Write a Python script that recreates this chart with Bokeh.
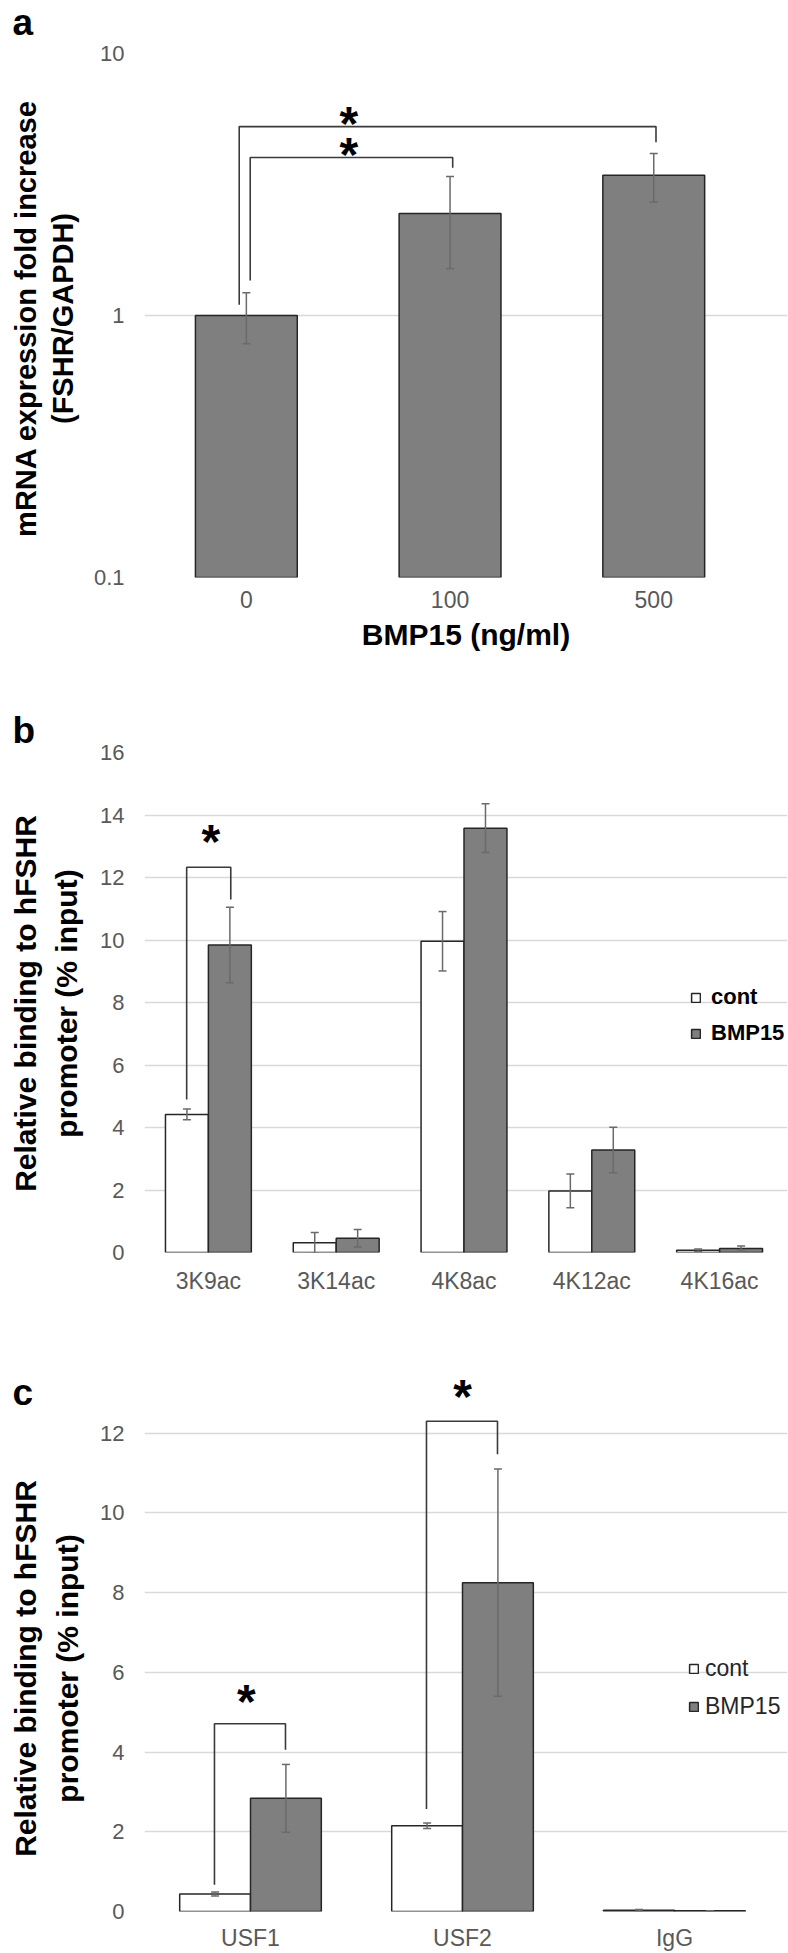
import math
from bokeh.plotting import figure
from bokeh.models import (Range1d, FixedTicker, ColumnDataSource, Whisker, TeeHead,
                          Legend, LegendItem)
from bokeh.layouts import column, row
from bokeh.embed import file_html
from bokeh.resources import INLINE
from bokeh.core.properties import value

# ---------------- data ----------------
series_names = ["cont", "BMP15"]
panel_letters = ["a", "b", "c"]

a_categories = ["0", "100", "500"]
a_fold = [1.0, 2.45, 3.43]
a_fold_err = [0.22, 0.94, 0.72]
a_yticks = [0.1, 1, 10]
a_ytick_labels = ["0.1", "1", "10"]
a_xlabel = "BMP15 (ng/ml)"
a_ylabel = ["mRNA expression fold increase", "(FSHR/GAPDH)"]
# brackets: (left x, right x, top y, left foot y, right foot y, star x, star y)
a_brackets = [(0.465, 2.511, 5.26, 1.10, 4.58, 1.003, 5.88),
              (0.519, 1.513, 4.01, 1.36, 3.66, 1.003, 4.47)]

b_categories = ["3K9ac", "3K14ac", "4K8ac", "4K12ac", "4K16ac"]
b_cont = [4.42, 0.31, 9.96, 1.97, 0.07]
b_cont_err = [0.17, 0.33, 0.95, 0.54, 0.04]
b_bmp15 = [9.84, 0.46, 13.58, 3.28, 0.13]
b_bmp15_err = [1.21, 0.28, 0.78, 0.73, 0.08]
b_yticks = [0, 2, 4, 6, 8, 10, 12, 14, 16]
b_ylabel = ["Relative binding to hFSHR", "promoter (% input)"]
b_brackets = [(0.33, 0.675, 12.33, 4.9, 11.3, 0.52, 13.47)]

c_categories = ["USF1", "USF2", "IgG"]
c_cont = [0.44, 2.15, 0.03]
c_cont_err = [0.05, 0.07, 0.02]
c_bmp15 = [2.84, 8.25, 0.02]
c_bmp15_err = [0.85, 2.85, 0.0]
c_yticks = [0, 2, 4, 6, 8, 10, 12]
c_ylabel = ["Relative binding to hFSHR", "promoter (% input)"]
c_brackets = [(0.33, 0.665, 4.71, 0.67, 4.06, 0.48, 5.51),
              (1.33, 1.665, 12.3, 2.57, 11.47, 1.5, 13.15)]

# ---------------- style ----------------
FONT = "Liberation Sans"
TICK = "#595959"
GRID = "#d9d9d9"
BAR_LINE = "#262626"
BMP_FILL = "#7f7f7f"
ERR = "#6a6a6a"
BRACKET = "#3a3a3a"
PAGE_W, PAGE_H = 788, 1953
STRIP_W = 90
W = PAGE_W - STRIP_W
FRAME_R = 787          # common right edge of all frames (page px)
STAR_FS = 48


class Panel:
    """One chart panel; geometry given in page pixels.
    grid_r is where the gridlines (category area) end."""

    def __init__(self, height, fig_top, fl, grid_r, ft, fb, n, y0, y1, log=False):
        x_end = n * (FRAME_R - fl) / (grid_r - fl)
        self.p = figure(width=W, height=height,
                        x_range=Range1d(0, x_end), y_range=Range1d(y0, y1),
                        y_axis_type="log" if log else "linear",
                        output_backend="svg", toolbar_location=None,
                        min_border_left=fl - STRIP_W,
                        min_border_right=PAGE_W - FRAME_R,
                        min_border_top=ft - fig_top,
                        min_border_bottom=fig_top + height - fb)
        p = self.p
        p.outline_line_color = None
        p.xgrid.grid_line_color = None
        p.ygrid.grid_line_color = GRID
        p.ygrid.grid_line_width = 1.3
        p.ygrid.bounds = (0, n)
        for ax in (p.xaxis[0], p.yaxis[0]):
            ax.axis_line_color = None
            ax.major_tick_line_color = None
            ax.minor_tick_line_color = None
            ax.major_tick_out = 0
            ax.major_tick_in = 0
            ax.minor_tick_out = 0
            ax.major_label_text_font = FONT
            ax.major_label_text_color = TICK
        p.yaxis.major_label_text_font_size = "22px"
        p.yaxis.major_label_standoff = 20
        p.xaxis.major_label_text_font_size = "23px"

    def set_ticks(self, cats, yticks, ylabels=None):
        p = self.p
        xt = FixedTicker(ticks=[i + 0.5 for i in range(len(cats))])
        p.xaxis.ticker = xt
        p.xaxis.major_label_overrides = {i + 0.5: c for i, c in enumerate(cats)}
        yt = FixedTicker(ticks=yticks, minor_ticks=[])
        p.yaxis.ticker = yt
        p.ygrid.ticker = yt
        if ylabels is not None:
            p.yaxis.major_label_overrides = {t: l for t, l in zip(yticks, ylabels)}

    def brackets(self, br):
        xs, ys, sx, sy = [], [], [], []
        for (xl, xr, yt, ylb, yrb, stx, sty) in br:
            xs.append([xl, xl, xr, xr])
            ys.append([ylb, yt, yt, yrb])
            sx.append(stx)
            sy.append(sty)
        self.p.multi_line(xs=xs, ys=ys, line_color=BRACKET, line_width=1.6)
        self.p.text(x=sx, y=sy, text=["*"] * len(sx), text_font=value(FONT),
                    text_font_style="bold", text_font_size=f"{STAR_FS}px",
                    text_align="center", text_baseline="alphabetic",
                    y_offset=0.2 * STAR_FS, text_color="black")

    def errors(self, xs, vals, errs):
        src = ColumnDataSource(dict(x=xs, lo=[v - e for v, e in zip(vals, errs)],
                                    hi=[v + e for v, e in zip(vals, errs)]))
        w = Whisker(source=src, base="x", lower="lo", upper="hi",
                    line_color=ERR, line_width=1.5, level="annotation",
                    upper_head=TeeHead(size=8, line_color=ERR, line_width=1.5),
                    lower_head=TeeHead(size=8, line_color=ERR, line_width=1.5))
        self.p.add_layout(w)

    def legend(self, renderers, loc, size, style, color, standoff, spacing):
        leg = Legend(items=[LegendItem(label=n, renderers=[r])
                            for n, r in zip(series_names, renderers)],
                     location=loc, glyph_width=11, glyph_height=11,
                     label_standoff=standoff, spacing=spacing, padding=0, margin=0,
                     border_line_color=None, background_fill_alpha=0,
                     label_text_font=FONT, label_text_font_size=size,
                     label_text_font_style=style, label_text_color=color,
                     label_height=25)
        self.p.add_layout(leg)


# ---------------- panel a ----------------
A = Panel(672, 0, 142, 755, 53, 577, len(a_categories), 0.1, 10, log=True)
A.set_ticks(a_categories, a_yticks, a_ytick_labels)
A.p.xaxis.major_label_standoff = 13
A.p.xaxis.axis_label = a_xlabel
A.p.xaxis.axis_label_text_font = FONT
A.p.xaxis.axis_label_text_font_size = "30px"
A.p.xaxis.axis_label_text_font_style = "bold"
A.p.xaxis.axis_label_text_color = "black"
A.p.xaxis.axis_label_standoff = 7
ax_x = [i + 0.5 for i in range(len(a_categories))]
A.p.vbar(x=ax_x, top=a_fold, bottom=0.1, width=0.5, fill_color=BMP_FILL,
         line_color=BAR_LINE, line_width=1.5)
A.errors(ax_x, a_fold, a_fold_err)
A.brackets(a_brackets)

# ---------------- panel b ----------------
BW = 0.336
nb = len(b_categories)
B = Panel(628, 672, 142, 783, 752, 1252, nb, 0, 16)
B.set_ticks(b_categories, b_yticks)
B.p.xaxis.major_label_standoff = 15
bx_c = [i + 0.5 - BW / 2 for i in range(nb)]
bx_b = [i + 0.5 + BW / 2 for i in range(nb)]
rb1 = B.p.vbar(x=bx_c, top=b_cont, bottom=0, width=BW, fill_color="white",
               line_color=BAR_LINE, line_width=1.5)
rb2 = B.p.vbar(x=bx_b, top=b_bmp15, bottom=0, width=BW, fill_color=BMP_FILL,
               line_color=BAR_LINE, line_width=1.5)
B.errors(bx_c, b_cont, b_cont_err)
B.errors(bx_b, b_bmp15, b_bmp15_err)
B.brackets(b_brackets)
B.legend([rb1, rb2], (546, 206), "22px", "bold", "black", 10, 10)

# ---------------- panel c ----------------
CW = 0.334
nc = len(c_categories)
C = Panel(653, 1300, 142, 780, 1353, 1912, nc, 0, 14)
C.set_ticks(c_categories, c_yticks)
C.p.xaxis.major_label_standoff = 13
cx_c = [i + 0.5 - CW / 2 for i in range(nc)]
cx_b = [i + 0.5 + CW / 2 for i in range(nc)]
rc1 = C.p.vbar(x=cx_c, top=c_cont, bottom=0, width=CW, fill_color="white",
               line_color=BAR_LINE, line_width=1.5)
rc2 = C.p.vbar(x=cx_b, top=c_bmp15, bottom=0, width=CW, fill_color=BMP_FILL,
               line_color=BAR_LINE, line_width=1.5)
C.errors(cx_c, c_cont, c_cont_err)
C.errors(cx_b, c_bmp15, c_bmp15_err)
C.brackets(c_brackets)
C.legend([rc1, rc2], (544, 191), "23px", "normal", "#262626", 6, 11)

# ---------------- left strip: panel letters and y-axis titles ----------------
S = figure(width=STRIP_W, height=PAGE_H, x_range=Range1d(0, STRIP_W),
           y_range=Range1d(PAGE_H, 0), output_backend="svg", toolbar_location=None,
           x_axis_location=None, y_axis_location=None, min_border=0)
S.outline_line_color = None
S.xgrid.visible = False
S.ygrid.visible = False
S.text(x=[12, 12, 12], y=[22, 730, 1392], text=panel_letters,
       text_font=value(FONT), text_font_style="bold", text_font_size="37px",
       text_align="left", text_baseline="alphabetic", text_color="black")
for lines, xs, yc, fs in ((a_ylabel, [25, 62], 318, "29px"),
                          (b_ylabel, [25, 66], 1003, "30px"),
                          (c_ylabel, [25, 67], 1668, "30px")):
    S.text(x=xs, y=[yc] * len(lines), text=lines, angle=math.pi / 2,
           text_font=value(FONT), text_font_style="bold", text_font_size=fs,
           text_align="center", text_baseline="middle", text_color="black")

layout = row(S, column(A.p, B.p, C.p, spacing=0), spacing=0)
open("out.html", "w").write(file_html(layout, INLINE))
